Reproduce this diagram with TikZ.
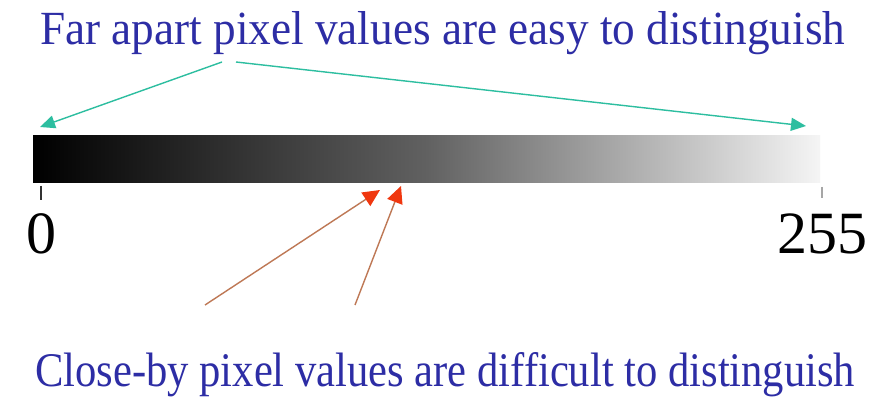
\documentclass[tikz,border=0pt]{standalone}
\usepackage{fontspec}
\setmainfont{Liberation Serif}
\usetikzlibrary{arrows.meta}
\definecolor{txtblue}{RGB}{45,45,165}
\definecolor{tealarrow}{RGB}{45,190,160}
\definecolor{redhead}{RGB}{240,55,15}
\definecolor{tanline}{RGB}{190,120,85}
\tikzset{
  label text/.style={inner sep=0pt, anchor=base west},
  far arrow/.style={draw=tealarrow, line width=1.4pt, -{Triangle[length=15pt,width=13pt]}, fill=tealarrow},
  close arrow/.style={draw=tanline, line width=1.4pt, -{Triangle[length=17pt,width=16pt,fill=redhead,color=redhead]}},
  tickmark/.style={line width=1.6pt},
  number/.style={inner sep=0pt, anchor=base, font=\fontsize{60}{60}\selectfont}
}
\begin{document}
\begin{tikzpicture}[x=1pt,y=-1pt]
\useasboundingbox (0,0) rectangle (886,398);
\fill[white] (0,0) rectangle (886,398);
% gradient bar
\node[inner sep=0pt, minimum width=787pt, minimum height=47pt, anchor=north west,
      left color=black, right color=white!96!black, middle color=black!62] (bar) at (33,135) {};
% top text
\node[label text] (top) at (40,45) {\resizebox{805pt}{33pt}{\color{txtblue}Far apart pixel values are easy to distinguish}};
% bottom text
\node[label text] (bottom) at (35,386) {\resizebox{820pt}{34pt}{\color{txtblue}Close-by pixel values are difficult to distinguish}};
% ticks and numbers
\coordinate (t0) at (41,186);
\coordinate (t255) at (822,187);
\draw[tickmark, black!80] (t0) -- ++(0,14);
\draw[tickmark, black!35, line width=1.1pt] (t255) -- ++(0,11);
\node[number] (n0) at (42,253) {0};
\node[number] (n255) at (822,253) {255};
% far apart arrows
\coordinate (fa1) at (222,62);
\coordinate (fa2) at (236,62);
\coordinate (tipL) at (40,127);
\coordinate (tipR) at (806,126);
\draw[far arrow] (fa1) -- (tipL);
\draw[far arrow] (fa2) -- (tipR);
% close-by arrows
\coordinate (cb1) at (205,305);
\coordinate (cb2) at (355,305);
\coordinate (tipA) at (380,190);
\coordinate (tipB) at (401,186);
\draw[close arrow] (cb1) -- (tipA);
\draw[close arrow] (cb2) -- (tipB);
\end{tikzpicture}
\end{document}
